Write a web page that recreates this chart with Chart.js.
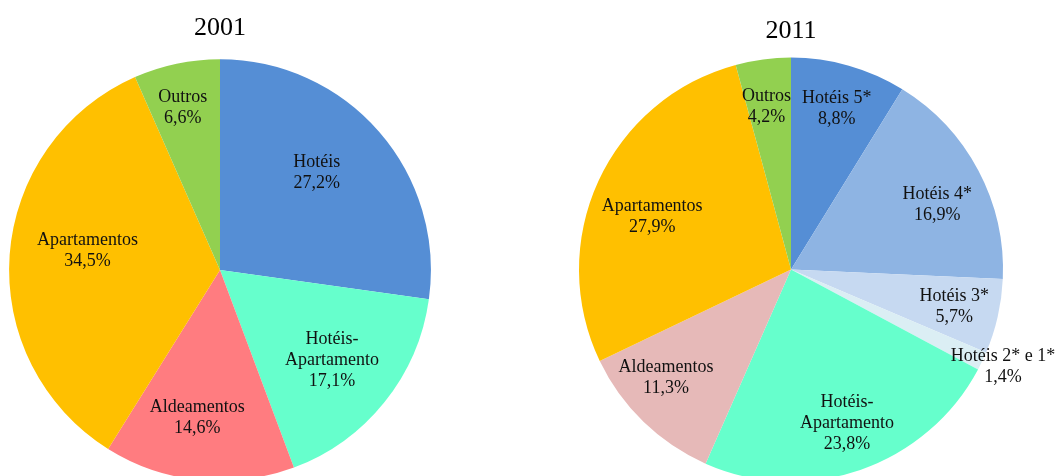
<!DOCTYPE html>
<html>
<head>
<meta charset="utf-8">
<script src="https://cdn.jsdelivr.net/npm/chart.js@4/dist/chart.umd.min.js"></script>
<style>
  html, body { margin: 0; padding: 0; background: #fff; overflow: hidden; }
  body { width: 1061px; height: 476px; position: relative; }
  .box { position: absolute; top: 0; }
  #box2001 { left: 0; width: 442px; height: 490px; }
  #box2011 { left: 511px; width: 550px; height: 490px; }
</style>
</head>
<body>
<div class="box" id="box2001"><canvas id="pie2001"></canvas></div>
<div class="box" id="box2011"><canvas id="pie2011"></canvas></div>
<script>
// data
const categories2001 = ["Hotéis", ["Hotéis-", "Apartamento"], "Aldeamentos", "Apartamentos", "Outros"];
const values2001 = [27.2, 17.1, 14.6, 34.5, 6.6];

const categories2011 = ["Hotéis 5*", "Hotéis 4*", "Hotéis 3*", "Hotéis 2* e 1*",
  ["Hotéis-", "Apartamento"], "Aldeamentos", "Apartamentos", "Outros"];
const values2011 = [8.8, 16.9, 5.7, 1.4, 23.8, 11.3, 27.9, 4.2];

const colors2001 = ["#558ed5", "#66ffcc", "#ff7c80", "#ffc000", "#92d050"];
const colors2011 = ["#558ed5", "#8eb4e3", "#c6d9f1", "#dbeef4", "#66ffcc", "#e6b9b8", "#ffc000", "#92d050"];

// where each label sits: fraction of radius, angle nudge in degrees
const labelPos2001 = [[0.65, -4], [0.68, 0], [0.71, 3], [0.635, 4], [0.79, -1]];
const labelPos2011 = [[0.79, 0], [0.755, 4], [0.79, 0], [1.10, -1], [0.77, -1], [0.78, 5], [0.70, -4], [0.775, -1]];

const serif = "'Liberation Serif', 'Times New Roman', serif";

const sliceLabels = {
  id: "sliceLabels",
  afterDatasetsDraw(chart, args, opts) {
    const ctx = chart.ctx;
    const meta = chart.getDatasetMeta(0);
    const data = chart.data.datasets[0].data;
    ctx.save();
    ctx.font = "18px " + serif;
    ctx.fillStyle = "#111";
    ctx.textAlign = "center";
    ctx.textBaseline = "middle";
    meta.data.forEach((arc, i) => {
      const p = arc.getProps(["x", "y", "startAngle", "endAngle", "outerRadius"], true);
      const [frac, nudge] = opts.pos[i];
      const a = (p.startAngle + p.endAngle) / 2 + nudge * Math.PI / 180;
      const cx = p.x + Math.cos(a) * p.outerRadius * frac;
      const cy = p.y + Math.sin(a) * p.outerRadius * frac;
      const name = chart.data.labels[i];
      const lines = (Array.isArray(name) ? name : [name]).concat(
        data[i].toFixed(1).replace(".", ",") + "%");
      const lh = 21;
      const top = cy - (lines.length - 1) * lh / 2;
      lines.forEach((t, k) => ctx.fillText(t, cx, top + k * lh));
    });
    ctx.restore();
  },
};

function makePie(id, year, labels, values, colors, pos, padding, titlePad) {
  return new Chart(id, {
    type: "pie",
    data: {
      labels: labels,
      datasets: [
        {
          data: values,
          backgroundColor: colors,
          borderWidth: 0,
        },
      ],
    },
    options: {
      responsive: true,
      maintainAspectRatio: false,
      animation: false,
      layout: { padding: padding },
      plugins: {
        legend: { display: false },
        tooltip: { enabled: false },
        title: {
          display: true,
          text: year,
          color: "#000",
          font: { family: serif, size: 26, weight: "normal" },
          padding: titlePad,
        },
        sliceLabels: { pos: pos },
      },
    },
    plugins: [sliceLabels],
  });
}

makePie("pie2001", "2001", categories2001, values2001, colors2001, labelPos2001,
  { left: 9, right: 11, top: 0, bottom: 9 }, { top: 13, bottom: 15 });
makePie("pie2011", "2011", categories2011, values2011, colors2011, labelPos2011,
  { left: 68, right: 58, top: 0, bottom: 8 }, { top: 16, bottom: 10 });
</script>
</body>
</html>
